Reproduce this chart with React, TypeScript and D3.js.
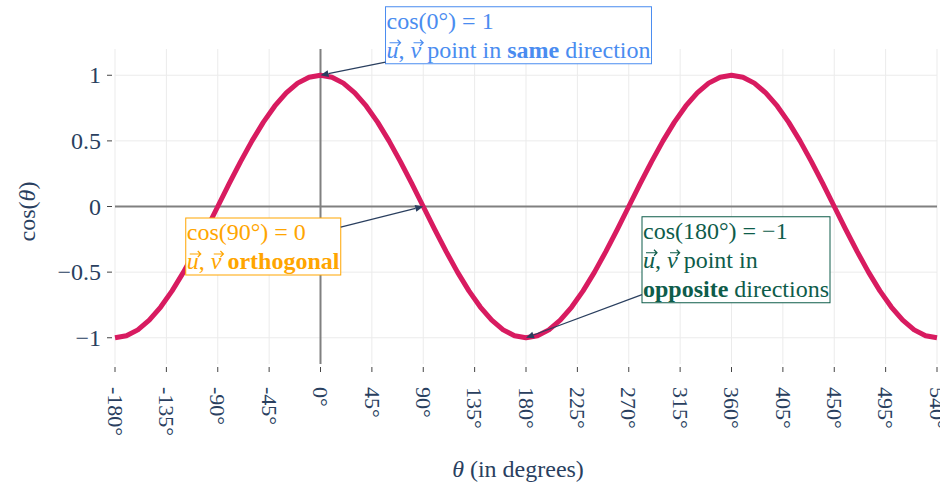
import React, { useEffect, useRef } from 'react';
import * as d3 from 'd3';

const width = 940;
const height = 489;
const margin = { top: 49, right: 3, bottom: 125, left: 115 };

const font = '"Liberation Serif", "DejaVu Serif", "Times New Roman", serif';
const labelColor = '#2a3f5f';

// cos(theta), one point every 10 degrees
const thetaDeg = [
  -180, -170, -160, -150, -140, -130, -120, -110, -100, -90, -80, -70, -60, -50, -40, -30, -20, -10,
  0, 10, 20, 30, 40, 50, 60, 70, 80, 90, 100, 110, 120, 130, 140, 150, 160, 170,
  180, 190, 200, 210, 220, 230, 240, 250, 260, 270, 280, 290, 300, 310, 320, 330, 340, 350,
  360, 370, 380, 390, 400, 410, 420, 430, 440, 450, 460, 470, 480, 490, 500, 510, 520, 530,
  540,
];
const cosTheta = [
  -1, -0.985, -0.94, -0.866, -0.766, -0.643, -0.5, -0.342, -0.174, 0, 0.174, 0.342, 0.5, 0.643, 0.766, 0.866, 0.94, 0.985,
  1, 0.985, 0.94, 0.866, 0.766, 0.643, 0.5, 0.342, 0.174, 0, -0.174, -0.342, -0.5, -0.643, -0.766, -0.866, -0.94, -0.985,
  -1, -0.985, -0.94, -0.866, -0.766, -0.643, -0.5, -0.342, -0.174, 0, 0.174, 0.342, 0.5, 0.643, 0.766, 0.866, 0.94, 0.985,
  1, 0.985, 0.94, 0.866, 0.766, 0.643, 0.5, 0.342, 0.174, 0, -0.174, -0.342, -0.5, -0.643, -0.766, -0.866, -0.94, -0.985,
  -1,
];

const xTicks = [-180, -135, -90, -45, 0, 45, 90, 135, 180, 225, 270, 315, 360, 405, 450, 495, 540];
const yTicks = [-1, -0.5, 0, 0.5, 1];
const yTickLabels = ['\u22121', '\u22120.5', '0', '0.5', '1'];

type Seg = { t: string; bold?: boolean; italic?: boolean; vec?: boolean };

const sameLines: Seg[][] = [
  [{ t: 'cos(0°) = 1' }],
  [{ t: 'u', italic: true, vec: true }, { t: ', ' }, { t: 'v', italic: true, vec: true }, { t: ' point in ' }, { t: 'same', bold: true }, { t: ' direction' }],
];
const orthoLines: Seg[][] = [
  [{ t: 'cos(90°) = 0' }],
  [{ t: 'u', italic: true, vec: true }, { t: ', ' }, { t: 'v', italic: true, vec: true }, { t: ' ' }, { t: 'orthogonal', bold: true }],
];
const oppLines: Seg[][] = [
  [{ t: 'cos(180°) = \u22121' }],
  [{ t: 'u', italic: true, vec: true }, { t: ', ' }, { t: 'v', italic: true, vec: true }, { t: ' point in' }],
  [{ t: 'opposite', bold: true }, { t: ' directions' }],
];

// annotated points (theta, cos) and their text
const notePoints = [
  { theta: 0, value: 1, lines: sameLines },
  { theta: 90, value: 0, lines: orthoLines },
  { theta: 180, value: -1, lines: oppLines },
];
// box offsets in px from the point, and colours
const noteStyle = [
  { ax: 198, ay: -40, color: '#4a8cf0' },
  { ax: -160, ay: 40, color: '#ffa500' },
  { ax: 210, ay: -78, color: '#0e5c4a' },
];

function App() {
  const ref = useRef<SVGSVGElement>(null);

  useEffect(() => {
    if (!ref.current) return;
    const svg: any = d3.select(ref.current);
    svg.selectAll('*').remove();

    const x = d3.scaleLinear().domain([-180, 540]).range([margin.left, width - margin.right]);
    const y = d3.scaleLinear().domain([-1.2, 1.2]).range([height - margin.bottom, margin.top]);
    const top = margin.top;
    const bottom = height - margin.bottom;
    const left = margin.left;
    const right = width - margin.right;

    svg.append('rect').attr('width', width).attr('height', height).attr('fill', '#fff');

    // grid
    const grid = svg.append('g');
    grid.selectAll('.vg').data(xTicks).enter().append('line')
      .attr('x1', (d: number) => x(d)).attr('x2', (d: number) => x(d))
      .attr('y1', top).attr('y2', bottom)
      .style('stroke', '#ebebeb').style('stroke-width', 1);
    grid.selectAll('.hg').data(yTicks).enter().append('line')
      .attr('x1', left).attr('x2', right)
      .attr('y1', (d: number) => y(d)).attr('y2', (d: number) => y(d))
      .style('stroke', '#ebebeb').style('stroke-width', 1);

    // zero lines
    svg.append('line').attr('x1', x(0)).attr('x2', x(0)).attr('y1', top).attr('y2', bottom)
      .style('stroke', '#808080').style('stroke-width', 2);
    svg.append('line').attr('x1', left).attr('x2', right).attr('y1', y(0)).attr('y2', y(0))
      .style('stroke', '#808080').style('stroke-width', 2);

    // ticks
    svg.selectAll('.xt').data(xTicks).enter().append('line')
      .attr('x1', (d: number) => x(d)).attr('x2', (d: number) => x(d))
      .attr('y1', bottom + 3).attr('y2', bottom + 8)
      .style('stroke', '#444').style('stroke-width', 1);
    svg.selectAll('.yt').data(yTicks).enter().append('line')
      .attr('x1', left - 8).attr('x2', left - 3)
      .attr('y1', (d: number) => y(d)).attr('y2', (d: number) => y(d))
      .style('stroke', '#444').style('stroke-width', 1);

    // tick labels
    svg.selectAll('.xl').data(xTicks).enter().append('text')
      .attr('transform', (d: number) => `translate(${x(d)}, ${bottom + 23}) rotate(90)`)
      .attr('dy', '0.33em')
      .attr('text-anchor', 'start')
      .attr('font-family', font).attr('font-size', 22).attr('fill', labelColor)
      .text((d: number) => `${d}°`);
    svg.selectAll('.yl').data(yTicks).enter().append('text')
      .attr('x', left - 14)
      .attr('y', (d: number) => y(d))
      .attr('dy', '0.34em')
      .attr('text-anchor', 'end')
      .attr('font-family', font).attr('font-size', 24).attr('fill', labelColor)
      .text((d: number, i: number) => yTickLabels[i]);

    // axis titles
    const yTitle = svg.append('text')
      .attr('transform', `translate(${35}, ${y(0) + 5}) rotate(-90)`)
      .attr('text-anchor', 'middle')
      .attr('font-family', font).attr('font-size', 24).attr('fill', labelColor);
    yTitle.append('tspan').text('cos(');
    yTitle.append('tspan').attr('font-style', 'italic').text('θ');
    yTitle.append('tspan').text(')');

    const xTitle = svg.append('text')
      .attr('x', 518).attr('y', 477)
      .attr('text-anchor', 'middle')
      .attr('font-family', font).attr('font-size', 24).attr('fill', labelColor);
    xTitle.append('tspan').attr('font-style', 'italic').text('θ');
    xTitle.append('tspan').text(' (in degrees)');

    // curve
    const line = d3.line<number>()
      .x((d, i) => x(thetaDeg[i]))
      .y((d) => y(d));
    svg.append('path')
      .datum(cosTheta)
      .attr('d', line)
      .attr('fill', 'none')
      .style('stroke', '#d81b60')
      .style('stroke-width', 5)
      .style('stroke-linejoin', 'round');

    // annotations
    notePoints.forEach((note, k) => {
      const st = noteStyle[k];
      const px = x(note.theta);
      const py = y(note.value);
      const cx = px + st.ax;
      const cy = py + st.ay;

      const g = svg.append('g');
      const textG = g.append('g');
      note.lines.forEach((segs, li) => {
        const baseY = li * 29;
        const t = textG.append('text')
          .attr('x', 0).attr('y', baseY)
          .attr('font-family', font).attr('font-size', 24).attr('fill', st.color);
        const vecIdx: number[] = [];
        let idx = 0;
        segs.forEach((s) => {
          t.append('tspan')
            .attr('font-weight', s.bold ? 'bold' : 'normal')
            .attr('font-style', s.italic ? 'italic' : 'normal')
            .text(s.t);
          if (s.vec) vecIdx.push(idx);
          idx += s.t.length;
        });
        const node = t.node() as SVGTextElement;
        vecIdx.forEach((ci) => {
          const a = node.getStartPositionOfChar(ci);
          const b = node.getEndPositionOfChar(ci);
          const x1 = a.x + 3;
          const x2 = b.x + 2;
          const yy = baseY - 15;
          textG.append('path')
            .attr('d', `M${x1},${yy}L${x2},${yy}M${x2 - 3},${yy - 3}L${x2},${yy}L${x2 - 3},${yy + 3}`)
            .attr('fill', 'none')
            .style('stroke', st.color)
            .style('stroke-width', 1.2);
        });
      });

      const bb = (textG.node() as SVGGElement).getBBox();
      const pad = 1;
      const bw = bb.width + pad * 2;
      const bh = bb.height + pad * 2;
      textG.attr('transform', `translate(${cx - bb.x - bb.width / 2}, ${cy - bb.y - bb.height / 2})`);
      g.insert('rect', ':first-child')
        .attr('x', cx - bw / 2).attr('y', cy - bh / 2)
        .attr('width', bw).attr('height', bh)
        .attr('fill', '#fff')
        .style('stroke', st.color).style('stroke-width', 1);

      // arrow from box edge to the point
      const dx = px - cx;
      const dy = py - cy;
      const s = Math.min((bw / 2) / Math.abs(dx || 1e-6), (bh / 2) / Math.abs(dy || 1e-6));
      const ex = cx + dx * s;
      const ey = cy + dy * s;
      const len = Math.hypot(px - ex, py - ey);
      const ux = (px - ex) / len;
      const uy = (py - ey) / len;
      const headLen = 8;
      const headW = 3.5;
      const bx = px - ux * headLen;
      const by = py - uy * headLen;
      svg.append('line')
        .attr('x1', ex).attr('y1', ey).attr('x2', bx).attr('y2', by)
        .style('stroke', labelColor).style('stroke-width', 1.2);
      svg.append('path')
        .attr('d', `M${px},${py}L${bx - uy * headW},${by + ux * headW}L${bx + uy * headW},${by - ux * headW}Z`)
        .attr('fill', labelColor);
    });
  }, []);

  return (
    <svg
      ref={ref}
      width={width}
      height={height}
      style={{ position: 'absolute', left: 0, top: 0 }}
    ></svg>
  );
}

export default App;
